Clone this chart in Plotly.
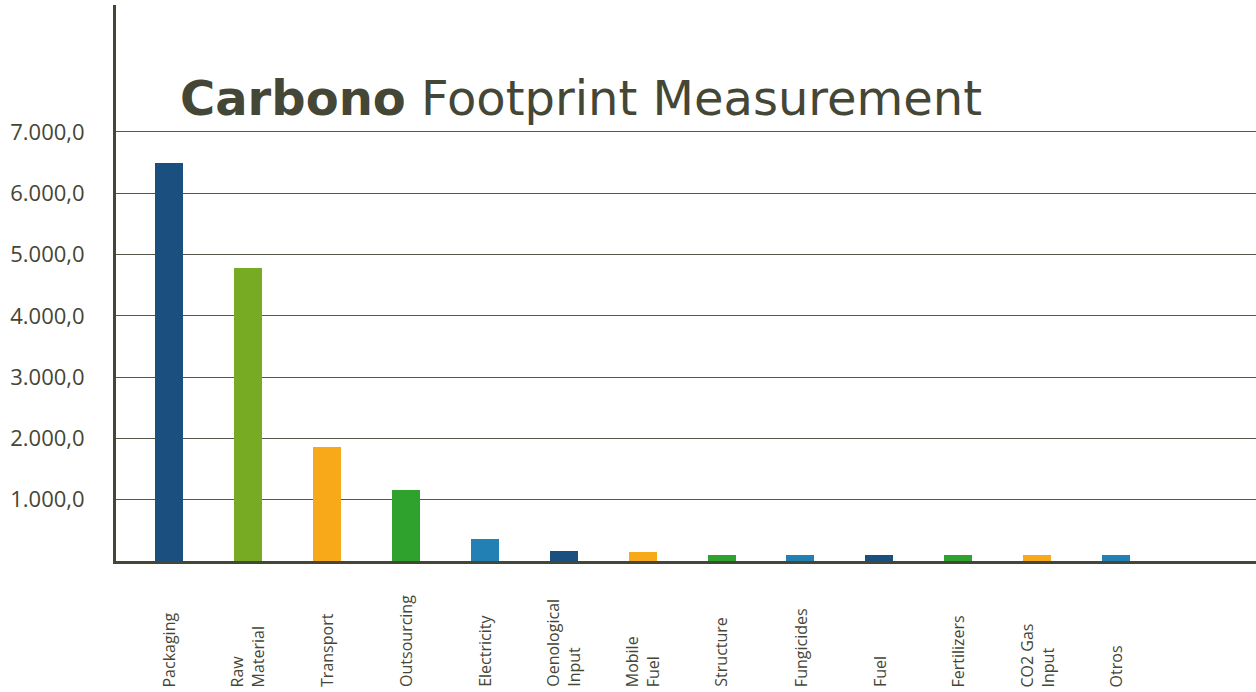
import plotly.graph_objects as go

categories = ["Packaging", "Raw Material", "Transport", "Outsourcing", "Electricity",
              "Oenological Input", "Mobile Fuel", "Structure", "Fungicides", "Fuel",
              "Fertilizers", "CO2 Gas Input", "Otros"]
label_text = ["Packaging", "Raw<br>Material", "Transport", "Outsourcing", "Electricity",
              "Oenological<br>Input", "Mobile<br>Fuel", "Structure", "Fungicides", "Fuel",
              "Fertilizers", "CO2 Gas<br>Input", "Otros"]
values = [6490, 4780, 1860, 1160, 360, 165, 150, 100, 100, 100, 100, 100, 100]
colors = ["#1B4F80", "#77AB24", "#F8A91A", "#2FA22D", "#2280B5",
          "#1B4F80", "#F8A91A", "#2FA22D", "#2280B5", "#1B4F80",
          "#2FA22D", "#F8A91A", "#2280B5"]
y_ticks = [1000, 2000, 3000, 4000, 5000, 6000, 7000]

ink = "#444636"

fig = go.Figure()
fig.add_trace(go.Bar(x=categories, y=values, marker=dict(color=colors, line=dict(width=0)),
                     width=0.355, hoverinfo="x+y"))

annotations = [dict(
    text="<b>Carbono</b> Footprint Measurement", xref="paper", yref="paper",
    x=0.0544, y=0.832, xanchor="left", yanchor="middle", showarrow=False,
    font=dict(family="DejaVu Sans", size=48, color=ink))]
for c, t in zip(categories, label_text):
    annotations.append(dict(
        text=t, x=c, xref="x", yref="paper", y=-0.2305, yanchor="bottom",
        xanchor="center", textangle=-90, align="left", showarrow=False,
        font=dict(family="Open Sans", size=16, color=ink)))

fig.update_layout(
    width=1256, height=692,
    margin=dict(l=116, r=0, t=5, b=131),
    paper_bgcolor="white", plot_bgcolor="white",
    showlegend=False, bargap=0,
    separators=",.",
    annotations=annotations,
    xaxis=dict(range=[-0.67, 13.77], showticklabels=False, showgrid=False,
               showline=True, linecolor=ink, linewidth=3, zeroline=False, ticks=""),
    yaxis=dict(range=[0, 9070], tickvals=y_ticks, tickformat=",.1f",
               showgrid=True, gridcolor="#55574a", gridwidth=1,
               showline=True, linecolor=ink, linewidth=3, zeroline=False,
               ticks="", ticklabelstandoff=24,
               tickfont=dict(family="Open Sans", size=22, color=ink)),
)

fig.write_html("out.html")
